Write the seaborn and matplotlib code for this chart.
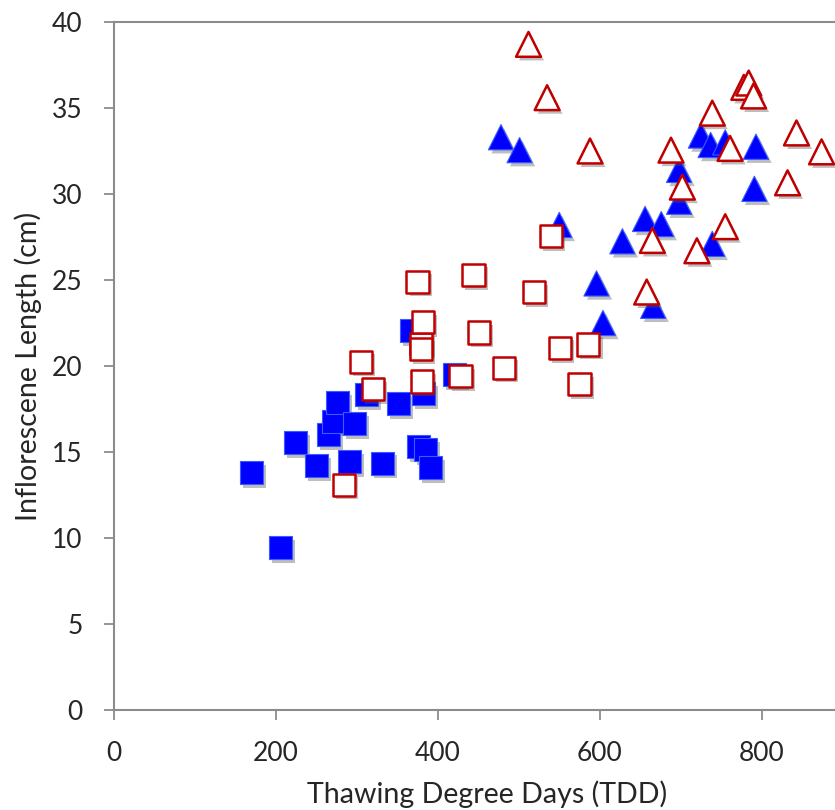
import matplotlib
matplotlib.use("Agg")
import matplotlib.pyplot as plt
import matplotlib.patheffects as pe
import seaborn as sns
import pandas as pd

# ---- data ----
blue_sq_x = [170, 206, 224, 250, 265, 271, 276, 291, 297, 312, 332, 351, 367, 376, 382, 385, 391, 420]
blue_sq_y = [13.8, 9.45, 15.55, 14.2, 16.0, 16.8, 17.85, 14.45, 16.65, 18.35, 14.35, 17.8, 22.05, 15.3, 18.4, 15.15, 14.1, 19.5]

blue_tri_x = [478, 501, 550, 596, 604, 628, 656, 666, 676, 698, 698, 725, 737, 739, 755, 793, 791]
blue_tri_y = [33.3, 32.55, 28.2, 24.8, 22.5, 27.25, 28.55, 23.5, 28.25, 29.55, 31.4, 33.4, 32.85, 27.1, 33.0, 32.75, 30.3]

red_sq_x = [284, 305, 320, 375, 379, 379, 380, 382, 428, 444, 451, 482, 519, 540, 551, 575, 586]
red_sq_y = [13.1, 20.25, 18.65, 24.9, 21.3, 21.0, 19.1, 22.55, 19.4, 25.3, 21.95, 19.9, 24.3, 27.55, 21.05, 18.95, 21.25]

red_tri_x = [512, 535, 588, 658, 665, 688, 702, 720, 739, 755, 761, 778, 784, 790, 832, 843, 874]
red_tri_y = [38.7, 35.6, 32.5, 24.3, 27.3, 32.55, 30.4, 26.7, 34.7, 28.1, 32.65, 36.2, 36.45, 35.7, 30.65, 33.55, 32.45]

x_ticks = [0, 200, 400, 600, 800]
y_ticks = [0, 5, 10, 15, 20, 25, 30, 35, 40]
x_label = "Thawing Degree Days (TDD)"
y_label = "Inflorescene Length (cm)"

sns.set_theme(style="white")
plt.rcParams["font.family"] = ["Lato", "DejaVu Sans"]

fig = plt.figure(figsize=(8.35, 8.10), dpi=100)
ax = fig.add_axes([114 / 835, 100 / 810, 721 / 835, 688 / 810])

shadow = [pe.SimplePatchShadow(offset=(2.2, -2.6), shadow_rgbFace="#555555", alpha=0.38), pe.Normal()]

BLUE = "#0000FF"
RED = "#C00000"

sns.scatterplot(data=pd.DataFrame({"x": blue_sq_x, "y": blue_sq_y}), x="x", y="y", ax=ax,
                marker="s", s=275, color=BLUE, edgecolor="#3a5cff", linewidth=0.8,
                path_effects=shadow, zorder=3)
sns.scatterplot(data=pd.DataFrame({"x": blue_tri_x, "y": blue_tri_y}), x="x", y="y", ax=ax,
                marker="^", s=330, color=BLUE, edgecolor="#3a5cff", linewidth=0.8,
                path_effects=shadow, zorder=3)
sns.scatterplot(data=pd.DataFrame({"x": red_sq_x, "y": red_sq_y}), x="x", y="y", ax=ax,
                marker="s", s=255, color="white", edgecolor=RED, linewidth=1.8,
                path_effects=shadow, zorder=4)
sns.scatterplot(data=pd.DataFrame({"x": red_tri_x, "y": red_tri_y}), x="x", y="y", ax=ax,
                marker="^", s=320, color="white", edgecolor=RED, linewidth=1.8,
                path_effects=shadow, zorder=4)

ax.set_xlim(0, 890.6)
ax.set_ylim(0, 40)
ax.set_xticks(x_ticks)
ax.set_yticks(y_ticks)

for side in ["left", "bottom", "top"]:
    ax.spines[side].set_visible(True)
    ax.spines[side].set_color("#8c8c8c")
    ax.spines[side].set_linewidth(1.5)
ax.spines["right"].set_visible(False)

ax.tick_params(axis="both", direction="out", length=7.5, width=1.3, color="#8c8c8c",
               pad=15, labelsize=19, labelcolor="#262626")
ax.tick_params(axis="y", left=True)
ax.tick_params(axis="x", bottom=True)

ax.set_xlabel(x_label, fontsize=20.6, color="#262626")
ax.set_ylabel(y_label, fontsize=20.6, color="#262626")
ax.xaxis.set_label_coords(0.517, -0.102)
ax.yaxis.set_label_coords(-0.100, 0.5)

fig.savefig("out.png", dpi=100)
